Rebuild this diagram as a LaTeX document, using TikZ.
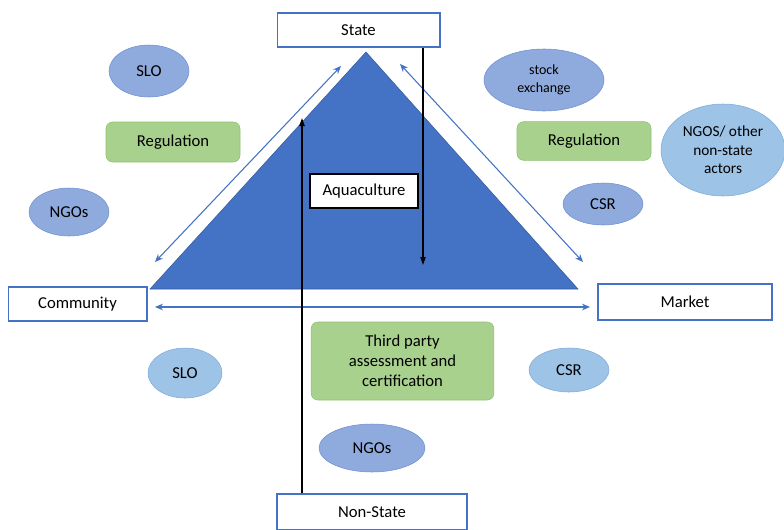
\documentclass[tikz,border=0pt]{standalone}
\usepackage{fontspec}
\setmainfont{Carlito}
\usetikzlibrary{shapes.geometric,arrows.meta}

\definecolor{offblue}{HTML}{4472C4}
\definecolor{perifill}{HTML}{8FAADC}
\definecolor{periline}{HTML}{6F8FD3}
\definecolor{skyfill}{HTML}{9DC3E6}
\definecolor{skyline}{HTML}{7EAADB}
\definecolor{leaffill}{HTML}{A9D18E}
\definecolor{leafline}{HTML}{8FC070}

\tikzset{
  actor/.style={draw=offblue, line width=1pt, fill=white, font=\fontsize{12.5}{15}\selectfont},
  oval/.style={ellipse, draw=periline, fill=perifill, inner sep=0pt, align=center, font=\fontsize{12.5}{15}\selectfont},
  skyoval/.style={oval, draw=skyline, fill=skyfill},
  rule/.style={rounded corners=5pt, draw=leafline, fill=leaffill, align=center, font=\fontsize{12.5}{15}\selectfont},
  link/.style={<->, >={Stealth[length=6pt,width=5pt]}, draw=offblue, line width=0.8pt},
  push/.style={->, >={Triangle[length=6pt,width=4pt]}, line width=0.9pt}
}

\begin{document}
\begin{tikzpicture}[x=0.75pt, y=-0.75pt]
    \useasboundingbox (0,0) rectangle (784,529);

    % the triangle
    \coordinate (apex) at (366,52);
    \coordinate (baseR) at (578,289);
    \coordinate (baseL) at (150,289);
    \draw [fill=offblue, draw=offblue!80!black] (apex) -- (baseR) -- (baseL) -- cycle;

    % corner actors
    \node [actor, minimum width=122pt, minimum height=25.5pt] (state) at (358.5,30) {State};
    \node [actor, minimum width=104pt, minimum height=25.5pt] (community) at (77.5,304) {Community};
    \node [actor, minimum width=130.5pt, minimum height=27pt] (market) at (685,302) {Market};
    \node [actor, minimum width=142.5pt, minimum height=27pt] (nonstate) at (372,512) {Non-State};
    \node [draw, line width=0.8pt, fill=white, minimum width=81pt, minimum height=25.5pt,
           font=\fontsize{12.5}{15}\selectfont] (aqua) at (364,191) {Aquaculture};

    % ties between actors
    \coordinate (leftlow) at (155,262);
    \coordinate (lefttop) at (341,66);
    \coordinate (righttop) at (400,64);
    \coordinate (rightlow) at (583,262);
    \coordinate (midL) at (155,307);
    \coordinate (midR) at (590,307);
    \draw [link] (leftlow) -- (lefttop);
    \draw [link] (righttop) -- (rightlow);
    \draw [link] (midL) -- (midR);

    \coordinate (up) at (302,118);
    \coordinate (down) at (423,265);
    \draw [push] (nonstate.north -| up) -- (up);
    \draw [push] (state.south -| down) -- (down);

    % left side
    \node [oval, minimum width=60pt, minimum height=39pt] (slo1) at (149,71) {SLO};
    \node [rule, minimum width=100.5pt, minimum height=30pt] (reg1) at (173,142) {Regulation};
    \node [oval, minimum width=60pt, minimum height=36pt] (ngo1) at (69,212) {NGOs};

    % right side
    \node [oval, minimum width=90pt, minimum height=46.5pt,
           font=\fontsize{10.5}{13}\selectfont] (stock) at (544,80) {stock\\exchange};
    \node [rule, minimum width=100.5pt, minimum height=29pt] (reg2) at (584,141) {Regulation};
    \node [skyoval, minimum width=93pt, minimum height=69pt,
           font=\fontsize{11.5}{14}\selectfont] (others) at (723,150) {NGOS/ other\\non-state\\actors};
    \node [oval, minimum width=60pt, minimum height=31.5pt] (csr1) at (603,204) {CSR};

    % bottom
    \node [skyoval, minimum width=55.5pt, minimum height=37.5pt] (slo2) at (185,373) {SLO};
    \node [rule, minimum width=137pt, minimum height=58.5pt] (third) at (402.5,361)
          {Third party\\assessment and\\certification};
    \node [skyoval, minimum width=60pt, minimum height=33pt] (csr2) at (569,370) {CSR};
    \node [oval, minimum width=79.5pt, minimum height=36pt] (ngo2) at (372,448) {NGOs};

\end{tikzpicture}
\end{document}
